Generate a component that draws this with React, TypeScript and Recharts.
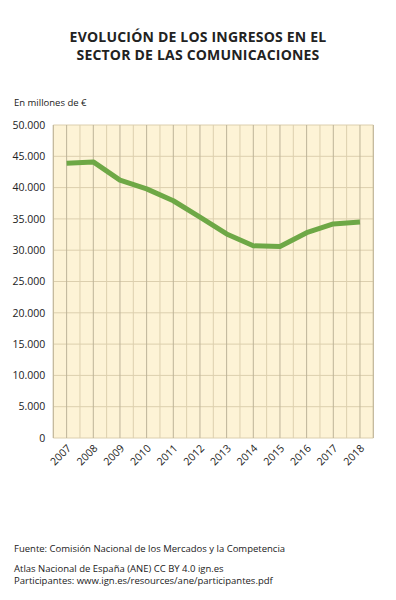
import React from "react"
import { LineChart, Line, XAxis, YAxis, CartesianGrid } from "recharts"

const years = ["2007", "2008", "2009", "2010", "2011", "2012", "2013", "2014", "2015", "2016", "2017", "2018"]
const ingresos = [43900, 44100, 41200, 39800, 37900, 35300, 32600, 30700, 30600, 32800, 34200, 34500]
const yTicks = [0, 5000, 10000, 15000, 20000, 25000, 30000, 35000, 40000, 45000, 50000]

const data = years.map((y, i) => ({ year: y, value: ingresos[i] }))

const FONT = "'Open Sans', 'DejaVu Sans', sans-serif"
const TEXT = "#222"

const fmt = (v: number) => String(v).replace(/\B(?=(\d{3})+(?!\d))/g, ".")

function YearTick(props: any) {
  const { x, y, payload } = props
  const ax = x + 5
  const ay = y + 11
  return (
    <text
      x={ax}
      y={ay}
      transform={`rotate(-45 ${ax} ${ay})`}
      textAnchor="end"
      fontSize={10.5}
      fontFamily={FONT}
      fill={TEXT}
    >
      {payload.value}
    </text>
  )
}

// lines on the edges of each year column
const bandEdges = ({ offset }: any) => {
  const out: number[] = []
  for (let i = 0; i <= years.length; i++) {
    out.push(offset.left + (i * offset.width) / years.length)
  }
  return out
}

export default function App() {
  return (
    <div style={{ position: "absolute", left: 0, top: 0, width: 396, height: 600, background: "#fff", fontFamily: FONT, color: TEXT }}>
      <div style={{ position: "absolute", top: 28, left: 0, width: 396, textAlign: "center", fontWeight: 700, fontSize: 14, lineHeight: "18px", letterSpacing: 0.2 }}>
        EVOLUCIÓN DE LOS INGRESOS EN EL<br />SECTOR DE LAS COMUNICACIONES
      </div>
      <div style={{ position: "absolute", top: 96, left: 14, fontSize: 9.5 }}>En millones de €</div>

      <div style={{ position: "absolute", left: 0, top: 0 }}>
        <LineChart width={396} height={480} data={data} margin={{ top: 125, right: 22.7, bottom: 0, left: 0 }}>
          <CartesianGrid
            stroke="#DCCFAE"
            strokeWidth={1}
            horizontal
            vertical
            verticalCoordinatesGenerator={bandEdges}
            fill="#FDF3D6"
          />
          <CartesianGrid stroke="#BDB398" strokeWidth={1} horizontal={false} vertical />
          <XAxis
            dataKey="year"
            padding={{ left: 13.33, right: 13.33 }}
            axisLine={false}
            tickLine={false}
            tickSize={0}
            tickMargin={0}
            tick={<YearTick />}
            interval={0}
            height={42}
          />
          <YAxis
            domain={[0, 50000]}
            ticks={yTicks}
            width={53.3}
            axisLine={false}
            tickLine={false}
            tickSize={0}
            tickMargin={8}
            tickFormatter={fmt}
            tick={{ fontSize: 10.5, fill: TEXT, fontFamily: FONT }}
            interval={0}
          />
          <Line
            type="linear"
            dataKey="value"
            stroke="#6EA846"
            strokeWidth={5}
            dot={false}
            strokeLinejoin="round"
            strokeLinecap="butt"
            isAnimationActive={false}
          />
        </LineChart>
      </div>

      <div style={{ position: "absolute", top: 542, left: 14, fontSize: 9.5 }}>
        Fuente: Comisión Nacional de los Mercados y la Competencia
      </div>
      <div style={{ position: "absolute", top: 563, left: 14, fontSize: 9.5, lineHeight: "11.5px" }}>
        Atlas Nacional de España (ANE) CC BY 4.0 ign.es<br />
        Participantes: www.ign.es/resources/ane/participantes.pdf
      </div>
    </div>
  )
}
